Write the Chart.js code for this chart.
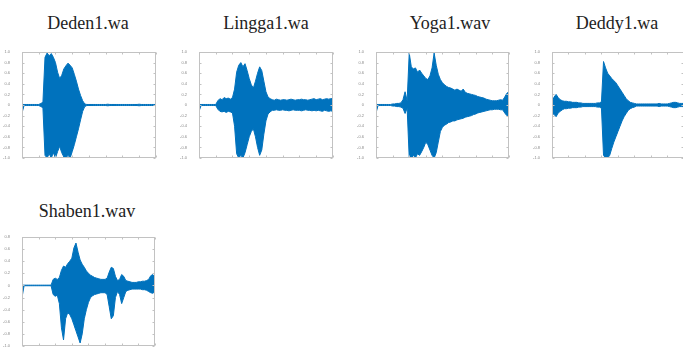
<!DOCTYPE html>
<html>
<head>
<meta charset="utf-8">
<script src="https://cdn.jsdelivr.net/npm/chart.js@4.4.1/dist/chart.umd.min.js"></script>
<style>
  html, body { margin: 0; padding: 0; background: #fff; width: 683px; height: 351px; overflow: hidden; position: relative; }
  .title { position: absolute; font-family: "Liberation Serif", "DejaVu Serif", "Times New Roman", serif; font-size: 18px; color: #222;
           transform: translate(-50%, -50%); white-space: nowrap; }
  .plot { position: absolute; }
</style>
</head>
<body>

<div class="title" style="left:88px; top:23px;">Deden1.wa</div>
<div class="title" style="left:266px; top:23px;">Lingga1.wa</div>
<div class="title" style="left:450px; top:23px;">Yoga1.wav</div>
<div class="title" style="left:617px; top:23px;">Deddy1.wa</div>
<div class="title" style="left:87px; top:211px;">Shaben1.wav</div>

<canvas id="deden"  class="plot" width="165" height="125" style="left:0px;   top:45px;"></canvas>
<canvas id="lingga" class="plot" width="165" height="125" style="left:177px; top:45px;"></canvas>
<canvas id="yoga"   class="plot" width="164" height="125" style="left:354px; top:45px;"></canvas>
<canvas id="deddy"  class="plot" width="163" height="125" style="left:530px; top:45px;"></canvas>
<canvas id="shaben" class="plot" width="164" height="128" style="left:0px;   top:230px;"></canvas>

<script>
// sample index (x axis) where the envelope was read, every 250 samples
var samplePos = [0, 250, 500, 750, 1000, 1250, 1500, 1750, 2000, 2250, 2500, 2750, 3000, 3250, 3500, 3750,
                 4000, 4250, 4500, 4750, 5000, 5250, 5500, 5750, 6000, 6250, 6500, 6750, 7000, 7250, 7500, 7750,
                 8000, 8250, 8500, 8750, 9000, 9250, 9500, 9750, 10000, 10250, 10500, 10750, 11000, 11250, 11500, 11750,
                 12000, 12250, 12500, 12750, 13000, 13250, 13500, 13750, 14000, 14250, 14500, 14750, 15000, 15250, 15500, 15750,
                 16000];
var xTicks = [0, 2000, 4000, 6000, 8000, 10000, 12000, 14000, 16000];

// waveform envelopes (upper / lower amplitude)
var dedenUpper = [0.01, 0.01, 0.01, 0.01, 0.01, 0.01, 0.01, 0.01, 0.01,
                  0.03, 0.05, 0.9, 0.98, 0.93, 0.97, 0.9, 0.8, 0.62, 0.5, 0.56, 0.68, 0.74, 0.79, 0.75, 0.7, 0.58, 0.45, 0.3, 0.18, 0.08, 0.02,
                  0.01, 0.01, 0.01, 0.01, 0.01, 0.01, 0.01, 0.01, 0.01, 0.01, 0.015, 0.01, 0.01, 0.01, 0.01, 0.01, 0.01,
                  0.01, 0.01, 0.01, 0.01, 0.01, 0.01, 0.01, 0.01, 0.015, 0.01, 0.01, 0.01, 0.01, 0.01, 0.01, 0.01, 0.01];
var dedenLower = [-0.15, -0.01, -0.01, -0.01, -0.01, -0.01, -0.01, -0.01, -0.01,
                  -0.03, -0.05, -0.95, -1, -0.92, -1, -0.9, -1, -0.88, -0.78, -0.9, -0.98, -1, -0.95, -1, -0.88, -0.75, -0.6, -0.45, -0.28, -0.12, -0.03,
                  -0.01, -0.01, -0.01, -0.01, -0.01, -0.01, -0.01, -0.01, -0.01, -0.01, -0.015, -0.01, -0.01, -0.01, -0.01, -0.01, -0.01,
                  -0.01, -0.01, -0.01, -0.01, -0.01, -0.01, -0.01, -0.01, -0.015, -0.01, -0.01, -0.01, -0.01, -0.01, -0.01, -0.01, -0.01];

var linggaUpper = [0.005, 0.01, 0.01, 0.01, 0.01, 0.01, 0.01, 0.01, 0.01,
                   0.08, 0.12, 0.1, 0.14, 0.12, 0.13, 0.11, 0.14, 0.3, 0.62, 0.75, 0.8, 0.72, 0.78, 0.65, 0.5, 0.38, 0.32, 0.45, 0.6, 0.72, 0.65, 0.45, 0.25, 0.15, 0.12,
                   0.1, 0.09, 0.11, 0.1, 0.09, 0.1, 0.1, 0.09, 0.1, 0.11, 0.1, 0.09, 0.1, 0.1, 0.11,
                   0.1, 0.1, 0.09, 0.1, 0.11, 0.12, 0.1, 0.11, 0.12, 0.1, 0.11, 0.12, 0.11, 0.12, 0.12];
var linggaLower = [-0.12, -0.01, -0.01, -0.01, -0.01, -0.01, -0.01, -0.01, -0.01,
                   -0.08, -0.12, -0.13, -0.12, -0.14, -0.12, -0.13, -0.15, -0.4, -0.92, -1, -0.95, -1, -0.9, -0.75, -0.6, -0.5, -0.45, -0.6, -0.8, -0.95, -0.85, -0.55, -0.3, -0.17, -0.13,
                   -0.1, -0.1, -0.09, -0.1, -0.1, -0.09, -0.1, -0.1, -0.11, -0.1, -0.09, -0.1, -0.1, -0.1, -0.11,
                   -0.1, -0.09, -0.1, -0.1, -0.11, -0.1, -0.11, -0.1, -0.11, -0.12, -0.1, -0.11, -0.12, -0.11, -0.12];

var yogaUpper = [0.01, 0.01, 0.01, 0.01, 0.01, 0.01, 0.01, 0.01,
                 0.02, 0.02, 0.03, 0.03, 0.04, 0.1, 0.25, 0.08,
                 0.98, 0.72, 0.68, 0.7, 0.62, 0.66, 0.6, 0.55,
                 0.5, 0.48, 0.55, 0.7, 0.98, 0.75, 0.58, 0.48,
                 0.42, 0.38, 0.35, 0.33, 0.32, 0.3, 0.28, 0.3,
                 0.28, 0.26, 0.3, 0.24, 0.22, 0.21, 0.2, 0.19,
                 0.18, 0.16, 0.15, 0.14, 0.13, 0.11, 0.1, 0.09,
                 0.08, 0.08, 0.08, 0.09, 0.1, 0.09, 0.15, 0.22,
                 0.25];
var yogaLower = [-0.15, -0.01, -0.01, -0.01, -0.01, -0.01, -0.01, -0.01,
                 -0.02, -0.02, -0.03, -0.03, -0.04, -0.06, -0.16, -0.06,
                 -1, -1, -0.95, -1, -0.92, -0.95, -0.88, -0.8,
                 -0.7, -0.75, -0.85, -0.95, -1, -0.9, -0.7, -0.5,
                 -0.42, -0.38, -0.36, -0.33, -0.32, -0.3, -0.3, -0.28,
                 -0.27, -0.26, -0.25, -0.23, -0.22, -0.21, -0.2, -0.18,
                 -0.17, -0.15, -0.14, -0.13, -0.12, -0.11, -0.1, -0.09,
                 -0.09, -0.08, -0.08, -0.08, -0.09, -0.09, -0.15, -0.2,
                 -0.22];

var deddyUpper = [0.05, 0.15, 0.2, 0.14, 0.1, 0.08, 0.07, 0.07,
                  0.06, 0.06, 0.05, 0.05, 0.05, 0.04, 0.04, 0.03,
                  0.03, 0.03, 0.03, 0.03, 0.03, 0.03, 0.04, 0.04,
                  0.06, 0.82, 0.7, 0.6, 0.55, 0.5, 0.46, 0.42,
                  0.36, 0.3, 0.24, 0.18, 0.12, 0.08, 0.05, 0.04,
                  0.03, 0.02, 0.02, 0.02, 0.02, 0.02, 0.02, 0.02,
                  0.02, 0.02, 0.02, 0.02, 0.03, 0.02, 0.02, 0.02,
                  0.02, 0.03, 0.04, 0.05, 0.05, 0.04, 0.03, 0.03,
                  0.03];
var deddyLower = [-0.15, -0.18, -0.22, -0.15, -0.12, -0.09, -0.07, -0.07,
                  -0.06, -0.06, -0.05, -0.05, -0.05, -0.04, -0.04, -0.03,
                  -0.03, -0.03, -0.03, -0.03, -0.03, -0.03, -0.04, -0.04,
                  -0.06, -0.95, -1, -1, -0.95, -0.82, -0.7, -0.6,
                  -0.5, -0.4, -0.3, -0.22, -0.16, -0.1, -0.07, -0.05,
                  -0.04, -0.02, -0.02, -0.02, -0.02, -0.02, -0.02, -0.02,
                  -0.02, -0.02, -0.02, -0.02, -0.03, -0.02, -0.02, -0.02,
                  -0.02, -0.03, -0.04, -0.05, -0.05, -0.04, -0.03, -0.03,
                  -0.03];

var shabenUpper = [0.005, 0.005, 0.005, 0.005, 0.005, 0.005, 0.005, 0.005,
                   0.005, 0.005, 0.005, 0.005, 0.005, 0.005, 0.005, 0.1,
                   0.12, 0.1, 0.13, 0.25, 0.32, 0.3, 0.36, 0.4,
                   0.45, 0.62, 0.7, 0.55, 0.42, 0.35, 0.3, 0.24,
                   0.2, 0.17, 0.15, 0.13, 0.12, 0.11, 0.1, 0.1,
                   0.1, 0.12, 0.22, 0.3, 0.28, 0.15, 0.08, 0.1,
                   0.18, 0.15, 0.08, 0.07, 0.06, 0.05, 0.05, 0.05,
                   0.06, 0.06, 0.07, 0.07, 0.08, 0.1, 0.16, 0.18,
                   0.14];
var shabenLower = [-0.2, -0.005, -0.005, -0.005, -0.005, -0.005, -0.005, -0.005,
                   -0.005, -0.005, -0.005, -0.005, -0.005, -0.005, -0.005, -0.15,
                   -0.18, -0.16, -0.3, -0.7, -0.9, -0.55, -0.45, -0.48,
                   -0.55, -0.65, -0.75, -0.85, -0.95, -0.8, -0.55, -0.4,
                   -0.28, -0.2, -0.17, -0.15, -0.14, -0.13, -0.12, -0.12,
                   -0.12, -0.15, -0.35, -0.55, -0.5, -0.2, -0.1, -0.15,
                   -0.3, -0.2, -0.1, -0.08, -0.07, -0.06, -0.06, -0.06,
                   -0.06, -0.06, -0.07, -0.07, -0.08, -0.1, -0.12, -0.13,
                   -0.1];

var waveColor = 'rgb(0,114,189)';

// box round the plot area plus small inward tick marks, like matlab axes
var framePlugin = {
    id: 'frame',
    afterDatasetsDraw: function(chart) {
        var a = chart.chartArea, ctx = chart.ctx;
        var l = Math.round(a.left) + 0.5, r = Math.round(a.right) - 0.5;
        var t = Math.round(a.top) + 0.5, b = Math.round(a.bottom) - 0.5;
        ctx.save();
        ctx.strokeStyle = '#c2c2c2';
        ctx.lineWidth = 1;
        ctx.strokeRect(l, t, r - l, b - t);
        ctx.beginPath();
        chart.scales.x.ticks.forEach(function(tk) {
            var px = Math.round(chart.scales.x.getPixelForValue(tk.value)) + 0.5;
            ctx.moveTo(px, b); ctx.lineTo(px, b - 2);
            ctx.moveTo(px, t); ctx.lineTo(px, t + 2);
        });
        chart.scales.y.ticks.forEach(function(tk) {
            var py = Math.round(chart.scales.y.getPixelForValue(tk.value)) + 0.5;
            ctx.moveTo(l, py); ctx.lineTo(l + 2, py);
            ctx.moveTo(r, py); ctx.lineTo(r - 2, py);
        });
        ctx.stroke();
        ctx.restore();
    }
};

function toPoints(values) {
    return values.map(function(v, i) { return { x: samplePos[i], y: v }; });
}

function makePlot(id, upper, lower, yMin, yMax) {
    var tickFont = { family: 'Arial, "Liberation Sans", sans-serif', size: 4 };
    return new Chart(document.getElementById(id), {
        type: 'line',
        data: {
            datasets: [{
                data: toPoints(upper),
                borderColor: waveColor,
                backgroundColor: waveColor,
                borderWidth: 1,
                pointRadius: 0,
                tension: 0,
                fill: '+1'
            }, {
                data: toPoints(lower),
                borderColor: waveColor,
                borderWidth: 1,
                pointRadius: 0,
                tension: 0,
                fill: false
            }]
        },
        options: {
            responsive: false,
            animation: false,
            devicePixelRatio: 1,
            layout: { padding: { top: 7, right: 7, left: 0, bottom: 0 } },
            plugins: { legend: { display: false }, tooltip: { enabled: false } },
            scales: {
                x: {
                    type: 'linear',
                    min: 0,
                    max: 16000,
                    afterBuildTicks: function(scale) {
                        scale.ticks = xTicks.map(function(v) { return { value: v }; });
                    },
                    afterFit: function(scale) { scale.height = 12; },
                    grid: { display: false },
                    border: { display: false },
                    ticks: { font: tickFont, color: '#8a8a8a', padding: 3, maxRotation: 0, autoSkip: false }
                },
                y: {
                    min: yMin,
                    max: yMax,
                    afterFit: function(scale) { scale.width = 22; },
                    grid: { display: false },
                    border: { display: false },
                    ticks: { stepSize: 0.2, font: tickFont, color: '#8a8a8a', padding: 4, autoSkip: false }
                }
            }
        },
        plugins: [framePlugin]
    });
}

makePlot('deden', dedenUpper, dedenLower, -1, 1);
makePlot('lingga', linggaUpper, linggaLower, -1, 1);
makePlot('yoga', yogaUpper, yogaLower, -1, 1);
makePlot('deddy', deddyUpper, deddyLower, -1, 1);
makePlot('shaben', shabenUpper, shabenLower, -1, 0.8);
</script>
</body>
</html>
